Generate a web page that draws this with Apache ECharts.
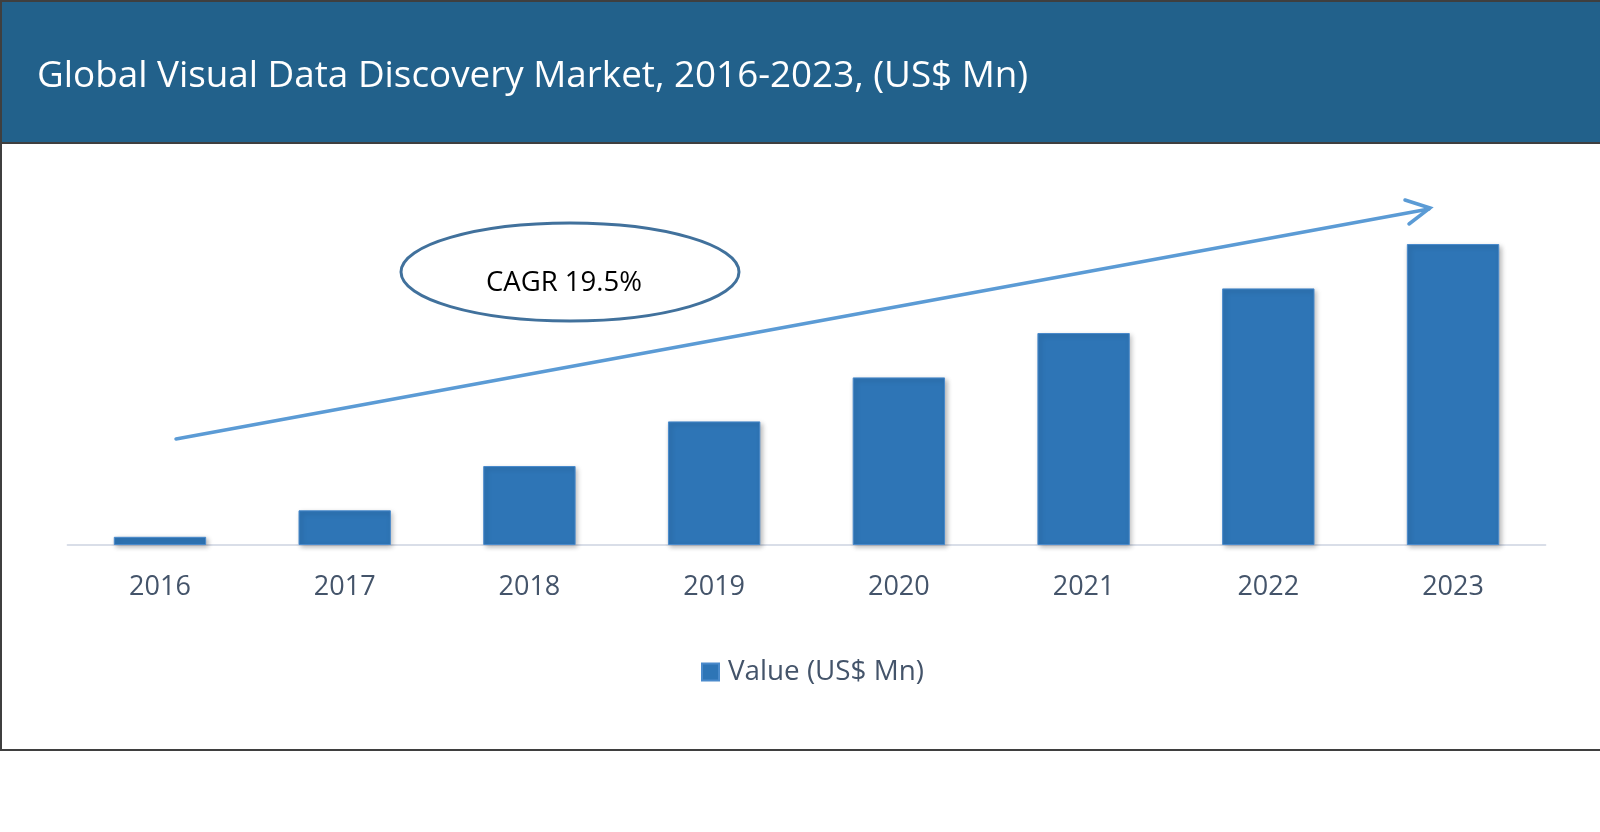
<!DOCTYPE html>
<html>
<head>
<meta charset="utf-8">
<script src="https://cdn.jsdelivr.net/npm/echarts@6/dist/echarts.min.js"></script>
<style>
html,body{margin:0;padding:0;background:#fff;}
#chart{width:1600px;height:832px;}
</style>
</head>
<body>
<div id="chart"></div>
<script>
const titleText = 'Global Visual Data Discovery Market, 2016-2023, (US$ Mn)';
const categories = ['2016', '2017', '2018', '2019', '2020', '2021', '2022', '2023'];
const seriesName = 'Value (US$ Mn)';
const values = [8.2, 34.7, 79.0, 123.6, 167.6, 212.0, 256.6, 301.0];
const cagrLabel = 'CAGR 19.5%';

const FONT = 'Open Sans';
const chart = echarts.init(document.getElementById('chart'));
chart.setOption({
  animation: false,
  backgroundColor: '#ffffff',
  title: {
    text: titleText,
    left: 37,
    top: 58,
    padding: 0,
    textStyle: { color: '#ffffff', fontFamily: FONT, fontSize: 36.8, fontWeight: 'normal' }
  },
  legend: {
    data: [seriesName],
    left: 701,
    top: 658,
    padding: 0,
    itemWidth: 17,
    itemHeight: 17,
    icon: 'rect',
    textStyle: { color: '#44546A', fontFamily: FONT, fontSize: 27.8, padding: [0, 0, 0, 4] }
  },
  grid: { left: 67.6, right: 54.6, top: 200, bottom: 287 },
  xAxis: {
    type: 'category',
    data: categories,
    axisLine: { lineStyle: { color: '#D9DEE8', width: 2 } },
    axisTick: { show: false },
    axisLabel: { color: '#44546A', fontFamily: FONT, fontSize: 27, margin: 29 }
  },
  yAxis: {
    type: 'value',
    min: 0,
    max: 345,
    show: false,
    splitLine: { show: false }
  },
  series: [{
    name: seriesName,
    type: 'bar',
    data: values,
    barWidth: '50%',
    itemStyle: {
      color: '#2E75B6',
      borderColor: '#4A8ACB',
      borderWidth: 1,
      shadowColor: 'rgba(0,0,0,0.28)',
      shadowBlur: 5,
      shadowOffsetX: 2,
      shadowOffsetY: 2
    }
  }],
  graphic: [
    { type: 'rect', z: -10, shape: { x: 0, y: 0, width: 1600, height: 143 }, style: { fill: '#22618B' } },
    { type: 'line', z: -5, shape: { x1: 0, y1: 143, x2: 1600, y2: 143 }, style: { stroke: '#3F3F3F', lineWidth: 2 } },
    { type: 'rect', z: -5, shape: { x: 1, y: 1, width: 1610, height: 749 }, style: { fill: null, stroke: '#3F3F3F', lineWidth: 2 } },
    { type: 'ellipse', shape: { cx: 570, cy: 272, rx: 169, ry: 49 }, style: { fill: '#ffffff', stroke: '#41719C', lineWidth: 3 } },
    { type: 'text', x: 564, y: 283, style: { text: cagrLabel, fill: '#000000', font: '27.5px "Open Sans"', textAlign: 'center', textVerticalAlign: 'middle' } },
    { type: 'line', shape: { x1: 176, y1: 439, x2: 1429, y2: 209 }, style: { stroke: '#5B9BD5', lineWidth: 3.5, lineCap: 'round' } },
    { type: 'polyline', shape: { points: [[1405, 200], [1430, 208], [1409, 224]] }, style: { stroke: '#5B9BD5', lineWidth: 3.5, fill: null, lineCap: 'round', lineJoin: 'miter' } }
  ]
});
</script>
</body>
</html>
